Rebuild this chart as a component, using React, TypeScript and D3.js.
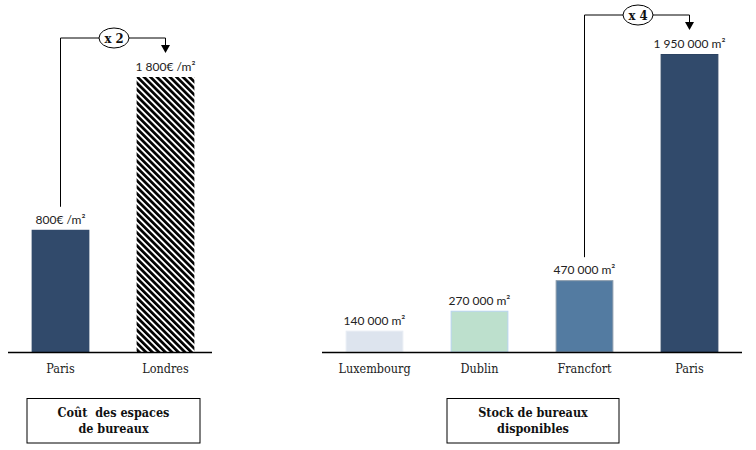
import React from "react";
import * as d3 from "d3";

const costCategories = ["Paris", "Londres"];
const costValues = [800, 1800];
const costLabels = ["800€ /m²", "1 800€ /m²"];
const costMultiplier = "x 2";
const costTitle = ["Coût  des espaces", "de bureaux"];

const stockCategories = ["Luxembourg", "Dublin", "Francfort", "Paris"];
const stockValues = [140000, 270000, 470000, 1950000];
const stockLabels = ["140 000 m²", "270 000 m²", "470 000 m²", "1 950 000 m²"];
const stockMultiplier = "x 4";
const stockTitle = ["Stock de bureaux", "disponibles"];

const stockColors = ["#dde4ee", "#bde0cd", "#537ba1", "#314a6b"];
const stockStrokes = ["#e8edf4", "#b7d3ee", "#8a9aaa", "#2c4362"];

const BASE = 352;
const valueFont = "Lato, 'Open Sans', sans-serif";
const serif = "'DejaVu Serif Condensed', 'DejaVu Serif', serif";

function Connector({ x1, y1, x2, yTip, label }: { x1: number; y1: number; x2: number; yTip: number; label: string }) {
  const yTop = yTip - 15;
  const cx = (x1 + x2) / 2 + 1;
  const rx = 15;
  const ry = 10;
  return (
    <g>
      <path d={`M${x1},${y1}V${yTop}H${cx - rx}`} fill="none" stroke="#000" strokeWidth={1} />
      <path d={`M${cx + rx},${yTop}H${x2}V${yTip - 7}`} fill="none" stroke="#000" strokeWidth={1} />
      <path d={`M${x2 - 4.5},${yTip - 8}L${x2 + 4.5},${yTip - 8}L${x2},${yTip}Z`} fill="#000" />
      <ellipse cx={cx} cy={yTop} rx={rx} ry={ry} fill="#fff" stroke="#000" strokeWidth={1} />
      <text x={cx} y={yTop + 4.5} textAnchor="middle" fontFamily={serif} fontWeight="bold" fontSize={13} fill="#111">
        {label}
      </text>
    </g>
  );
}

function TitleBox({ x0, x1, lines }: { x0: number; x1: number; lines: string[] }) {
  const cx = (x0 + x1) / 2;
  return (
    <g>
      <rect x={x0} y={398.5} width={x1 - x0} height={44.5} fill="#fff" stroke="#000" strokeWidth={1} />
      {lines.map((l, i) => (
        <text key={i} x={cx} y={417 + i * 16} textAnchor="middle" fontFamily={serif} fontWeight="bold" fontSize={12.5} fill="#111" style={{ whiteSpace: "pre" }}>
          {l}
        </text>
      ))}
    </g>
  );
}

export default function App() {
  const xCost = d3.scaleBand<string>().domain(costCategories).range([8, 218]).paddingInner(0.45).paddingOuter(0.225);
  const yCost = d3.scaleLinear().domain([0, 1800]).range([BASE, 77]);

  const xStock = d3.scaleBand<string>().domain(stockCategories).range([322, 742]).paddingInner(0.45).paddingOuter(0.225);
  const yStock = d3.scaleLinear().domain([0, 1950000]).range([BASE, 54]);

  const bw1 = xCost.bandwidth();
  const bw2 = xStock.bandwidth();
  const cCost = (c: string) => (xCost(c) as number) + bw1 / 2;
  const cStock = (c: string) => (xStock(c) as number) + bw2 / 2;

  return (
    <svg width={756} height={450} style={{ position: "absolute", left: 0, top: 0, background: "#fff" }}>
      <defs>
        <pattern id="hatch" patternUnits="userSpaceOnUse" width={4.6} height={4.6} patternTransform="rotate(-45)">
          <rect x={0} y={0} width={4.6} height={4.6} fill="#fff" />
          <rect x={0} y={0} width={2.7} height={4.6} fill="#000" />
        </pattern>
      </defs>

      {/* Left chart */}
      {costCategories.map((c, i) => (
        <g key={c}>
          <rect
            x={xCost(c)}
            y={yCost(costValues[i])}
            width={bw1}
            height={BASE - yCost(costValues[i])}
            fill={i === 0 ? "#314a6b" : "url(#hatch)"}
          />
          <text x={cCost(c)} y={yCost(costValues[i]) - 6} textAnchor="middle" fontFamily={valueFont} fontSize={12} fill="#222">
            {costLabels[i]}
          </text>
          <text x={cCost(c)} y={373} textAnchor="middle" fontFamily={serif} fontSize={12.5} fill="#222">
            {c}
          </text>
        </g>
      ))}
      <line x1={8} x2={212} y1={BASE + 0.5} y2={BASE + 0.5} stroke="#000" strokeWidth={1.3} />
      <Connector
        x1={cCost("Paris")}
        y1={yCost(costValues[0]) - 23}
        x2={cCost("Londres")}
        yTip={yCost(costValues[1]) - 24}
        label={costMultiplier}
      />
      <TitleBox x0={27} x1={200} lines={costTitle} />

      {/* Right chart */}
      {stockCategories.map((c, i) => (
        <g key={c}>
          <rect
            x={(xStock(c) as number) + 0.5}
            y={yStock(stockValues[i]) + 0.5}
            width={bw2 - 1}
            height={BASE - yStock(stockValues[i]) - 0.5}
            fill={stockColors[i]}
            stroke={stockStrokes[i]}
            strokeWidth={1}
          />
          <text x={cStock(c)} y={yStock(stockValues[i]) - 6} textAnchor="middle" fontFamily={valueFont} fontSize={12} fill="#222">
            {stockLabels[i]}
          </text>
          <text x={cStock(c)} y={373} textAnchor="middle" fontFamily={serif} fontSize={12.5} fill="#222">
            {c}
          </text>
        </g>
      ))}
      <line x1={322} x2={742} y1={BASE + 0.5} y2={BASE + 0.5} stroke="#000" strokeWidth={1.3} />
      <Connector
        x1={cStock("Francfort")}
        y1={yStock(stockValues[2]) - 23}
        x2={cStock("Paris")}
        yTip={yStock(stockValues[3]) - 24}
        label={stockMultiplier}
      />
      <TitleBox x0={447} x1={619} lines={stockTitle} />
    </svg>
  );
}
